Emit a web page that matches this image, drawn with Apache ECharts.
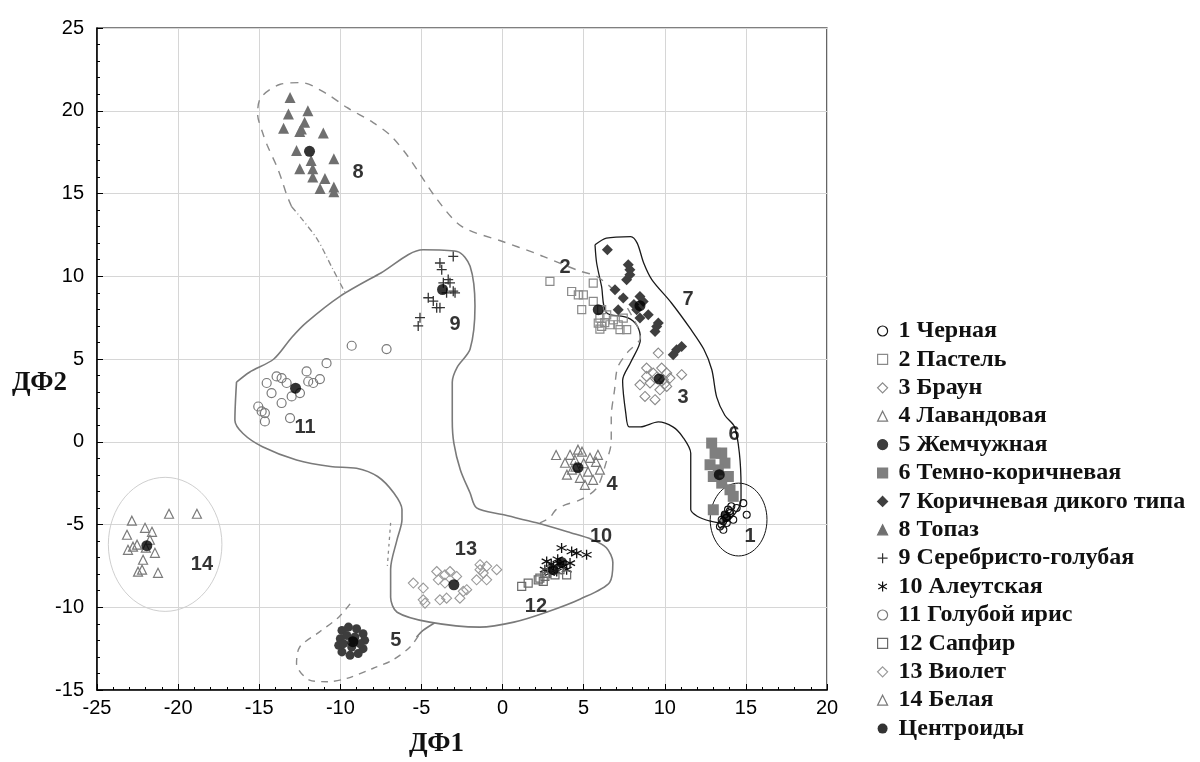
<!DOCTYPE html>
<html><head><meta charset="utf-8">
<script src="https://cdn.jsdelivr.net/npm/echarts@6/dist/echarts.min.js"></script>
<style>html,body{margin:0;padding:0;background:#fff}#c{width:1200px;height:762px}</style>
</head><body><div id="c"></div>
<script>
// ---------- data ----------
const xRange = [-25, 20];
const yRange = [-15, 25];
const tickStep = 5;
const groupNames = ['1 Черная','2 Пастель','3 Браун','4 Лавандовая','5 Жемчужная','6 Темно-коричневая','7 Коричневая дикого типа','8 Топаз','9 Серебристо-голубая','10 Алеутская','11 Голубой ирис','12 Сапфир','13 Виолет','14 Белая'];
const centroidName = 'Центроиды';

const g1 = [[14.84,-3.71],[15.05,-4.41],[14.02,-4.31],[14.22,-4.71],[13.4,-5.12],[13.61,-5.32],[13.82,-4.91],[14.43,-4.0],[13.51,-4.71],[13.7,-4.4],[13.9,-4.1],[14.1,-3.9],[13.6,-4.8],[13.8,-4.6],[14.0,-4.2],[13.5,-5.0]];
const g2 = [[2.92,9.69],[5.59,9.59],[4.26,9.08],[4.67,8.88],[4.98,8.88],[5.59,8.48],[4.88,7.98],[6.11,7.98],[6.42,7.67],[6.0,7.47],[5.9,7.17],[6.11,6.97],[6.62,7.07],[7.13,7.07],[7.24,6.77],[7.65,6.77],[6.83,7.37],[7.44,7.47],[6.3,7.2],[6.0,6.8]];
const g3 = [[9.6,5.36],[8.88,4.45],[9.81,4.45],[9.29,4.15],[10.12,4.15],[11.04,4.05],[8.47,3.44],[9.09,3.55],[10.12,3.34],[9.7,3.14],[8.78,2.74],[9.4,2.54],[10.32,3.85],[8.88,3.95],[9.91,3.75],[9.5,3.9],[10.0,3.5]];
const g4 = [[3.3,-0.8],[4.16,-0.79],[4.46,-1.09],[4.9,-0.6],[5.39,-0.97],[5.76,-1.21],[6.0,-1.69],[5.27,-1.81],[4.77,-2.18],[4.28,-1.69],[3.85,-1.27],[5.08,-2.6],[5.58,-2.3],[3.97,-1.99],[5.88,-0.79],[4.65,-0.48],[4.5,-1.5],[5.0,-1.3]];
const g5 = [[-9.9,-11.4],[-9.5,-11.2],[-9.0,-11.3],[-8.6,-11.6],[-8.5,-12.0],[-8.6,-12.5],[-8.9,-12.8],[-9.4,-12.9],[-9.9,-12.7],[-10.1,-12.3],[-10.0,-11.9],[-9.6,-11.7],[-9.1,-11.8],[-8.8,-12.2],[-9.3,-12.4],[-9.8,-12.2],[-9.2,-12.0]];
const g6 = [[12.89,-0.08],[13.51,-0.68],[12.79,-1.39],[13.71,-1.29],[12.99,-2.1],[13.92,-2.1],[13.51,-2.5],[14.02,-2.9],[12.99,-4.11],[14.22,-3.3],[13.3,-1.7],[13.1,-0.7]];
const g7 = [[6.46,11.6],[7.75,10.69],[7.85,10.39],[7.65,9.79],[7.85,10.09],[6.93,9.18],[7.44,8.68],[8.47,8.78],[8.67,8.48],[7.13,7.98],[8.27,7.98],[8.47,7.47],[8.98,7.67],[9.6,7.17],[9.4,6.66],[9.5,6.97],[10.73,5.56],[11.04,5.76],[10.52,5.26],[8.1,8.3]];
const g8 = [[-13.1,20.8],[-13.2,19.8],[-12.0,20.0],[-13.5,18.95],[-12.2,19.3],[-12.4,18.9],[-12.5,18.75],[-11.05,18.65],[-12.7,17.6],[-11.8,17.0],[-10.4,17.1],[-12.5,16.5],[-11.7,16.5],[-11.7,16.0],[-10.95,15.9],[-11.25,15.3],[-10.4,15.4],[-10.4,15.1]];
const g9 = [[-3.86,10.8],[-3.04,11.2],[-3.75,10.4],[-3.35,9.8],[-3.24,9.6],[-3.65,9.6],[-3.04,9.1],[-3.45,9.0],[-2.93,9.0],[-4.58,8.7],[-4.27,8.5],[-3.86,8.1],[-4.06,8.1],[-5.09,7.5],[-5.2,7.0]];
const g10 = [[3.64,-6.42],[4.57,-6.73],[5.18,-6.83],[4.26,-6.63],[2.72,-7.23],[3.13,-7.53],[3.54,-7.33],[3.95,-7.73],[2.61,-7.73],[2.92,-7.93],[3.34,-7.84],[3.74,-7.53],[4.16,-7.33],[3.0,-7.4],[3.4,-7.1]];
const g11 = [[-10.85,4.75],[-12.08,4.25],[-14.54,3.55],[-13.93,3.95],[-13.62,3.85],[-13.31,3.55],[-11.98,3.64],[-11.67,3.55],[-11.26,3.79],[-12.49,2.94],[-13.0,2.74],[-14.24,2.94],[-13.62,2.34],[-15.06,2.13],[-14.85,1.83],[-14.65,1.73],[-14.65,1.23],[-13.1,1.43],[-9.3,5.8],[-7.15,5.6]];
const g12 = [[1.18,-8.74],[1.58,-8.54],[2.2,-8.34],[2.51,-8.44],[2.61,-8.14],[2.3,-8.24],[2.72,-7.93],[3.03,-7.73],[3.54,-7.73],[3.95,-8.04],[3.23,-8.04]];
const g13 = [[-5.5,-8.54],[-4.89,-8.84],[-4.06,-7.84],[-3.55,-8.04],[-3.24,-7.84],[-2.83,-8.14],[-3.96,-8.34],[-3.55,-8.54],[-2.42,-9.04],[-2.21,-8.94],[-2.63,-9.45],[-3.86,-9.55],[-3.45,-9.45],[-4.89,-9.55],[-4.78,-9.75],[-1.39,-7.43],[-1.39,-7.73],[-1.19,-7.93],[-1.6,-8.34],[-0.98,-8.34],[-0.36,-7.73],[-0.98,-7.53]];
const g14 = [[-22.85,-4.77],[-23.15,-5.62],[-22.04,-5.2],[-20.56,-4.35],[-18.84,-4.35],[-21.61,-5.44],[-22.53,-6.22],[-23.09,-6.53],[-22.16,-7.13],[-22.47,-7.85],[-22.22,-7.73],[-21.24,-7.92],[-22.78,-6.34],[-21.43,-6.71],[-21.74,-5.92],[-21.99,-6.4]];
const centroids = [[13.77,-4.51],[5.9,7.98],[9.66,3.79],[4.65,-1.57],[-9.23,-12.08],[13.36,-1.99],[8.47,8.22],[-11.9,17.55],[-3.7,9.2],[3.64,-7.29],[-12.76,3.24],[3.13,-7.73],[-3.0,-8.64],[-21.93,-6.28]];

const groupLabelTexts = ['1','2','3','4','5','6','7','8','9','10','11','12','13','14'];
const groupLabelPos = [[15.26,-5.74],[3.85,10.51],[11.13,2.66],[6.75,-2.6],[-6.58,-12.02],[14.27,0.42],[11.43,8.58],[-8.91,16.25],[-2.93,7.07],[6.07,-5.74],[-12.18,0.85],[2.06,-9.97],[-2.26,-6.53],[-18.53,-7.43]];

// outlines (data coordinates)
const outlineSolidGray = [[-16.4,3.6],[-15.6,4.2],[-14.1,5.0],[-13.0,6.3],[-12.1,7.2],[-10.0,8.8],[-7.5,10.2],[-4.9,11.6],[-2.8,11.5],[-2.0,10.6],[-1.7,8.2],[-2.0,5.6],[-2.8,4.5],[-3.1,3.6],[-3.1,1.3],[-3.0,-0.1],[-2.6,-1.7],[-2.0,-3.1],[-1.6,-4.0],[0.0,-4.4],[2.1,-4.9],[4.2,-5.5],[5.5,-5.9],[6.4,-6.4],[6.8,-7.3],[6.6,-8.5],[4.8,-9.5],[2.7,-10.3],[0.7,-10.9],[-1.4,-11.2],[-4.5,-10.9],[-6.5,-10.3],[-6.9,-9.4],[-6.9,-7.7],[-6.5,-5.9],[-6.2,-4.7],[-6.2,-4.1],[-6.7,-3.1],[-7.7,-2.1],[-9.0,-1.6],[-10.6,-1.5],[-12.7,-1.1],[-14.8,-0.3],[-16.0,0.5],[-16.5,1.3],[-16.4,3.6]];
const outlineTail = [[-4.2,-10.95],[-4.9,-11.4],[-5.3,-11.8]];
const outlineBlack = [[5.7,11.9],[6.4,12.3],[7.9,12.4],[8.3,12.0],[8.7,10.8],[9.2,9.8],[10.4,8.4],[11.6,6.8],[12.4,5.6],[12.9,4.35],[13.2,2.7],[13.7,1.6],[14.3,0.9],[14.6,-0.7],[14.7,-2.7],[14.7,-3.5],[14.2,-4.5],[13.5,-4.9],[12.8,-4.8],[12.0,-4.5],[11.6,-4.1],[11.6,-0.7],[11.1,0.3],[10.5,0.9],[9.6,1.2],[8.5,0.9],[7.8,0.9],[7.6,1.7],[7.4,3.7],[7.9,4.8],[8.5,6.2],[8.3,7.0],[7.7,7.5],[6.4,7.8],[6.1,9.4],[5.8,10.8],[5.7,11.9]];
const outlineDashed = [[-13.0,14.2],[-13.3,14.9],[-13.6,15.8],[-13.9,16.6],[-14.5,17.9],[-14.8,18.7],[-15.1,19.8],[-14.9,20.8],[-13.7,21.6],[-12.4,21.7],[-10.8,21.0],[-9.6,20.2],[-8.0,19.3],[-6.9,18.5],[-5.8,17.2],[-4.0,14.6],[-2.5,13.0],[0.0,12.1],[2.0,11.4],[2.5,11.2],[4.8,10.3],[5.8,10.0],[7.2,8.8],[8.3,7.0],[8.5,6.3],[7.7,5.4],[7.1,4.5],[6.9,3.1],[6.7,1.5],[6.7,0.0],[6.4,-1.2],[5.8,-2.8],[4.8,-3.5],[3.9,-3.8],[3.3,-4.1],[2.9,-4.6],[2.3,-4.9]];
const outlineDashDot = [[-13.0,14.2],[-12.4,13.5],[-11.4,12.2],[-10.5,10.5],[-9.7,9.0]];
const outlineDashDotLow = [[-6.9,-4.9],[-7.0,-6.2],[-7.1,-7.5]];
const outlineDash5 = [[-9.4,-9.8],[-10.1,-10.6],[-11.3,-11.5],[-12.5,-12.4],[-12.7,-13.4],[-11.9,-14.4],[-10.8,-14.5],[-9.6,-14.3],[-8.0,-13.7],[-6.8,-13.2],[-5.7,-12.4],[-5.1,-11.6]];
// ellipses: [centerX, centerY, radiusX, radiusY]
const ellipses = [[14.55,-4.7,1.75,2.2],[-20.8,-6.2,3.5,4.05]];

const groups = [g1,g2,g3,g4,g5,g6,g7,g8,g9,g10,g11,g12,g13,g14];

// ---------- styles ----------
const PLUS = 'path://M5,0L5,10M0,5L10,5';
const STAR = 'path://M5,0L5,10M0.7,2.5L9.3,7.5M0.7,7.5L9.3,2.5';
const T = 'rgba(255,255,255,0)';
const styles = [
  {symbol:'circle',  size:7,  color:T,        border:'#111', bw:1.1},
  {symbol:'rect',    size:8,  color:T,        border:'#8a8a8a', bw:1.2},
  {symbol:'diamond', size:10, color:T,        border:'#8a8a8a', bw:1.1},
  {symbol:'triangle',size:9,  color:T,        border:'#7a7a7a', bw:1.2},
  {symbol:'circle',  size:9,  color:'#3d3d3d',border:'#3d3d3d', bw:0},
  {symbol:'rect',    size:11, color:'#7f7f7f',border:'#7f7f7f', bw:0},
  {symbol:'diamond', size:11, color:'#3f3f3f',border:'#3f3f3f', bw:0},
  {symbol:'triangle',size:11, color:'#6f6f6f',border:'#6f6f6f', bw:0},
  {symbol:PLUS,      size:10, color:T,        border:'#333', bw:1.3},
  {symbol:STAR,      size:10, color:T,        border:'#111', bw:1.3},
  {symbol:'circle',  size:9,  color:T,        border:'#7a7a7a', bw:1.2},
  {symbol:'rect',    size:8,  color:T,        border:'#6a6a6a', bw:1.2},
  {symbol:'diamond', size:10, color:T,        border:'#9a9a9a', bw:1.1},
  {symbol:'triangle',size:9,  color:T,        border:'#7a7a7a', bw:1.2}
];
const ellipseStyles = [{stroke:'#111', lineWidth:1},{stroke:'#cfcfcf', lineWidth:1}];

function lineSeries(data, color, width, type, z){
  return {type:'line', data:data, showSymbol:false, symbol:'none', smooth:0.3, silent:true, z:z||1,
    lineStyle:{color:color, width:width, type:type}, legendHoverLink:false, tooltip:{show:false}};
}

const series = [];
series.push(lineSeries(outlineSolidGray,'#7a7a7a',1.6,'solid'));
series.push(lineSeries(outlineTail,'#7a7a7a',1.6,'solid'));
series.push(lineSeries(outlineBlack,'#1a1a1a',1.3,'solid'));
series.push(lineSeries(outlineDashed,'#8a8a8a',1.4,[8,7]));
series.push(lineSeries(outlineDashDot,'#8a8a8a',1.3,[6,3,1,3]));
series.push(lineSeries(outlineDashDotLow,'#8a8a8a',1.3,[3,4]));
series.push(lineSeries(outlineDash5,'#8a8a8a',1.4,[7,6]));
series.push({type:'custom', silent:true, z:1, data:ellipses,
  renderItem:function(params, api){
    const c = api.coord([api.value(0), api.value(1)]);
    const s = api.size([api.value(2), api.value(3)]);
    const st = ellipseStyles[params.dataIndex];
    return {type:'ellipse', shape:{cx:c[0], cy:c[1], rx:s[0], ry:s[1]},
      style:{fill:'none', stroke:st.stroke, lineWidth:st.lineWidth}};
  }});

groups.forEach((g,i)=>{
  const s = styles[i];
  series.push({type:'scatter', name:groupNames[i], data:g, symbol:s.symbol, symbolSize:s.size, z:3,
    itemStyle:{color:s.color, borderColor:s.border, borderWidth:s.bw, opacity:1}});
});
series.push({type:'scatter', name:centroidName, data:centroids, symbol:'circle', symbolSize:11, z:5,
  itemStyle:{color:'#000', borderWidth:0}});
series.push({type:'scatter', data:groupLabelPos.map((p,i)=>({value:p, name:groupLabelTexts[i]})), symbolSize:1, z:6, silent:true,
  itemStyle:{color:T},
  label:{show:true, position:'inside', formatter:'{b}', color:'#000', fontSize:20, fontWeight:'bold', fontFamily:'Liberation Sans, Arial, sans-serif'}});

const chart = echarts.init(document.getElementById('c'), null, {renderer:'canvas'});
chart.setOption({
  animation:false,
  backgroundColor:'#fff',
  grid:{left:97, right:373, top:28, bottom:72, show:true, borderColor:'#000', borderWidth:1.2, containLabel:false},
  xAxis:{type:'value', min:xRange[0], max:xRange[1], interval:tickStep,
    axisLine:{show:true, onZero:false, lineStyle:{color:'#000', width:1.5}},
    axisTick:{show:true, inside:true, length:6, lineStyle:{color:'#000'}},
    minorTick:{show:true, splitNumber:5, length:3, lineStyle:{color:'#000'}},
    splitLine:{show:true, lineStyle:{color:'#d6d6d6', width:1}},
    axisLabel:{fontSize:20, color:'#000', margin:8, fontFamily:'Liberation Sans, Arial, sans-serif'}},
  yAxis:{type:'value', min:yRange[0], max:yRange[1], interval:tickStep,
    axisLine:{show:true, onZero:false, lineStyle:{color:'#000', width:1.5}},
    axisTick:{show:true, inside:true, length:6, lineStyle:{color:'#000'}},
    minorTick:{show:true, splitNumber:5, length:3, lineStyle:{color:'#000'}},
    splitLine:{show:true, lineStyle:{color:'#d6d6d6', width:1}},
    axisLabel:{fontSize:20, color:'#000', margin:13, fontFamily:'Liberation Sans, Arial, sans-serif'}},
  legend:{orient:'vertical', left:872, top:314, itemWidth:10, itemHeight:10, itemGap:4.4,
    data:groupNames.concat([centroidName]),
    itemStyle:{borderWidth:1.2},
    textStyle:{fontSize:24, fontWeight:'bold', color:'#111', fontFamily:'Liberation Serif, Times New Roman, serif', lineHeight:24, padding:[0,0,0,6]},
    selectedMode:false},
  graphic:[
    {type:'text', left:409, top:731, style:{text:'ДФ1', fontSize:27, fontWeight:'bold', fill:'#111', fontFamily:'Liberation Serif, Times New Roman, serif'}},
    {type:'text', left:12, top:370, style:{text:'ДФ2', fontSize:27, fontWeight:'bold', fill:'#111', fontFamily:'Liberation Serif, Times New Roman, serif'}}
  ],
  series:series
});
</script></body></html>
